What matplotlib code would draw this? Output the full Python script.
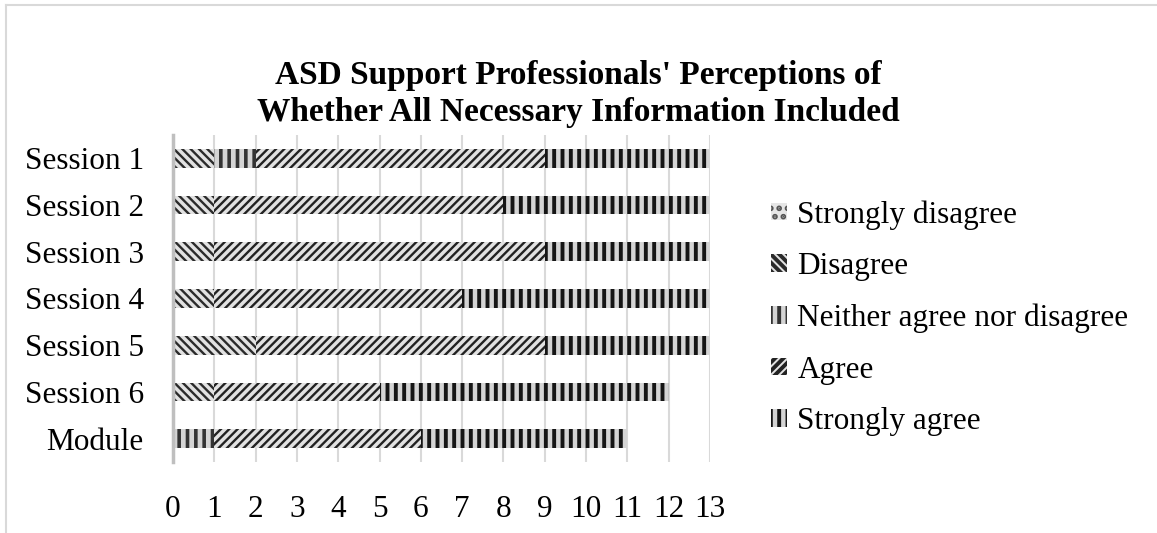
import matplotlib
matplotlib.use("Agg")
import matplotlib.pyplot as plt
import numpy as np

plt.rcParams['font.family'] = ['Liberation Serif', 'DejaVu Serif']

sessions = ["Session 1", "Session 2", "Session 3", "Session 4", "Session 5", "Session 6", "Module"]
categories = ["Strongly disagree", "Disagree", "Neither agree nor disagree", "Agree", "Strongly agree"]

strongly_disagree = [0, 0, 0, 0, 0, 0, 0]
disagree = [1, 1, 1, 1, 2, 1, 0]
neither = [1, 0, 0, 0, 0, 0, 1]
agree = [7, 7, 8, 6, 7, 4, 5]
strongly_agree = [4, 5, 4, 6, 4, 7, 5]

series = [strongly_disagree, disagree, neither, agree, strongly_agree]
hatches = ['..', '\\\\\\\\', '||', '////', '||']
faces = ['#e6e6e6', '#e2e2e2', '#d4d4d4', '#e2e2e2', '#d4d4d4']
edges = ['#555555', '#2a2a2a', '#333333', '#222222', '#151515']
hatch_lw = [1.5, 1.7, 2.6, 1.7, 2.8]

fig = plt.figure(figsize=(11.57, 5.33), dpi=100)
ax = fig.add_axes([0.1495, 0.133, 0.4642, 0.614])

y = np.arange(len(sessions))
left = np.zeros(len(sessions))
for vals, name, h, fc, ec, hl in zip(series, categories, hatches, faces, edges, hatch_lw):
    vals = np.array(vals, dtype=float)
    plt.rcParams['hatch.linewidth'] = hl
    bars = ax.barh(y, vals, left=left, height=0.4, color=fc, edgecolor=ec,
                   hatch=h, linewidth=0, label=name, zorder=3)
    for b in bars:
        if hasattr(b, 'set_hatch_linewidth'):
            b.set_hatch_linewidth(hl)
    left += vals

ax.set_xlim(0, 13)
ax.set_ylim(len(sessions) - 0.5, -0.5)
ax.set_xticks(range(14))
ax.set_yticks(y)
ax.set_yticklabels(sessions)
ax.tick_params(axis='both', length=0, labelsize=22.5, colors='black')
ax.tick_params(axis='y', pad=21)
ax.tick_params(axis='x', pad=24)
ax.grid(axis='x', color='#d9d9d9', linewidth=1.5, zorder=0)
for s in ['top', 'right', 'bottom']:
    ax.spines[s].set_visible(False)
ax.spines['left'].set_color('#bfbfbf')
ax.spines['left'].set_linewidth(2.5)
ax.spines['left'].set_zorder(4)

fig.text(0.5, 0.824, "ASD Support Professionals' Perceptions of\nWhether All Necessary Information Included",
         ha='center', va='center', fontsize=24, fontweight='bold', linespacing=1.25)

leg = ax.legend(loc='center left', bbox_to_anchor=(1.09, 0.44), frameon=False,
                fontsize=22.5, handlelength=0.5, handleheight=0.5,
                handletextpad=0.35, labelspacing=0.72, borderaxespad=0)

# chart border along the top and left edges
fig.add_artist(plt.Line2D([6 / 1157, 1.0], [1 - 5 / 533, 1 - 5 / 533],
                          transform=fig.transFigure, color='#d9d9d9', linewidth=1.5))
fig.add_artist(plt.Line2D([6 / 1157, 6 / 1157], [0, 1 - 5 / 533],
                          transform=fig.transFigure, color='#d9d9d9', linewidth=1.5))

fig.savefig("out.png", dpi=100)
